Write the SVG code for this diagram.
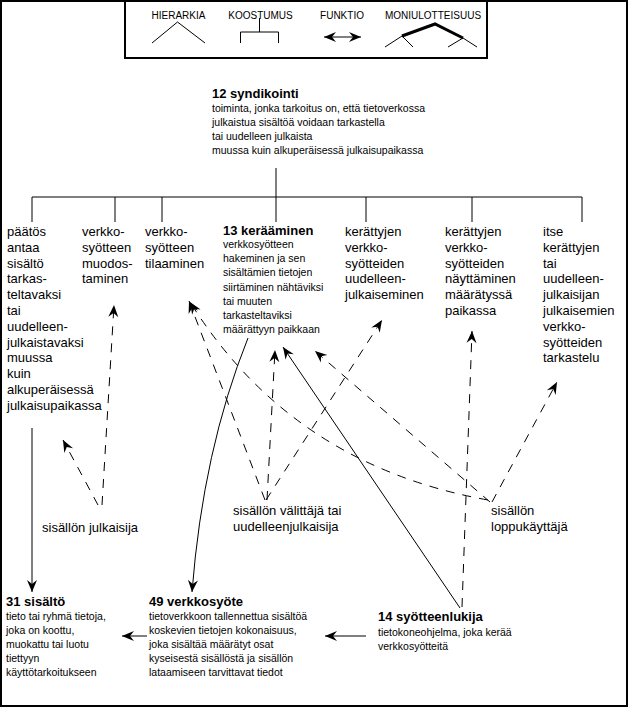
<svg xmlns="http://www.w3.org/2000/svg" width="629" height="708" viewBox="0 0 629 708">
<style>
text{font-family:"Liberation Sans",Arial,sans-serif;fill:#000}
.lg{font-size:10px;text-anchor:middle}
.s{font-size:10.5px}
.m{font-size:13px}
.b{font-size:13px;font-weight:bold}
.ln{fill:none;stroke:#000;stroke-width:1}
.d{fill:none;stroke:#000;stroke-width:1;stroke-dasharray:9,8}
.a{marker-end:url(#ah)}
</style>
<defs>
<marker id="ah" viewBox="-13 -6 14 12" refX="0" refY="0" markerWidth="14" markerHeight="12" markerUnits="userSpaceOnUse" orient="auto-start-reverse">
<path d="M0,0 L-12,-5 L-8,0 L-12,5 Z" fill="#000"/>
</marker>
</defs>
<rect x="0" y="0" width="629" height="708" fill="#fff"/>
<rect x="1" y="1" width="626" height="705" fill="none" stroke="#000" stroke-width="2"/>

<g id="legend">
<rect x="125" y="1" width="362" height="57" fill="none" stroke="#000" stroke-width="2"/>
<text class="lg" x="178.5" y="18.5">HIERARKIA</text>
<text class="lg" x="260.5" y="18.5">KOOSTUMUS</text>
<text class="lg" x="342" y="18.5">FUNKTIO</text>
<text class="lg" x="433" y="18.5">MONIULOTTEISUUS</text>
<path class="ln" d="M152,43 L177.5,22 L205,43"/>
<path class="ln" d="M259.5,18 V32 M240.5,43 V32 H278.5 V43"/>
<path class="ln" d="M324,37 H361" marker-start="url(#ah)" marker-end="url(#ah)"/>
<path d="M402,36 L435,24 L463,38" fill="none" stroke="#000" stroke-width="3"/>
<path class="ln" d="M385,47 L402,36 L413,47 M448,47 L463,38 L477,47"/>
</g>

<g id="connectors">
<path class="ln" d="M276,168 V222 M32,197 H582 M32,197 V222 M115,197 V222 M162,197 V222 M366,197 V222 M472,197 V222 M582,197 V222"/>
<path class="d a" d="M102,505 L114,305"/>
<path class="d a" d="M98,505 L63,440"/>
<path class="d a" d="M265,500 L189,301"/>
<path class="d a" d="M267,500 L275,350"/>
<path class="d a" d="M266,500 L382,320"/>
<path class="d a" d="M488,500 Q292,465 190,302"/>
<path class="d a" d="M490,502 L315,351"/>
<path class="d a" d="M492,502 L557,382"/>
<path class="d a" d="M462,607 L472,331"/>
<path class="ln a" d="M460,608 L283,347"/>
<path class="ln a" d="M248,338 Q203,450 192,592"/>
<path class="ln a" d="M32,428 V592"/>
<path class="ln a" d="M366,636 H325"/>
<path class="ln a" d="M147,636 H122"/>
</g>

<g id="n12">
<text class="b" x="212" y="97.5">12  syndikointi</text>
<text class="s" x="212" y="112">toiminta, jonka tarkoitus on, että tietoverkossa</text>
<text class="s" x="212" y="126">julkaistua sisältöä voidaan tarkastella</text>
<text class="s" x="212" y="140">tai uudelleen julkaista</text>
<text class="s" x="212" y="154">muussa kuin alkuperäisessä julkaisupaikassa</text>
</g>

<g id="paatos">
<text class="m" x="7" y="236">päätös</text>
<text class="m" x="7" y="251.8">antaa</text>
<text class="m" x="7" y="267.6">sisältö</text>
<text class="m" x="7" y="283.4">tarkas-</text>
<text class="m" x="7" y="299.2">teltavaksi</text>
<text class="m" x="7" y="315">tai</text>
<text class="m" x="7" y="330.8">uudelleen-</text>
<text class="m" x="7" y="346.6">julkaistavaksi</text>
<text class="m" x="7" y="362.4">muussa</text>
<text class="m" x="7" y="378.2">kuin</text>
<text class="m" x="7" y="394">alkuperäisessä</text>
<text class="m" x="7" y="409.8">julkaisupaikassa</text>
</g>

<g id="muodostaminen">
<text class="m" x="82" y="236">verkko-</text>
<text class="m" x="82" y="251.8">syötteen</text>
<text class="m" x="82" y="267.6">muodos-</text>
<text class="m" x="82" y="283.4">taminen</text>
</g>

<g id="tilaaminen">
<text class="m" x="145" y="236">verkko-</text>
<text class="m" x="145" y="251.8">syötteen</text>
<text class="m" x="145" y="267.6">tilaaminen</text>
</g>

<g id="n13">
<text class="b" x="223" y="235">13  kerääminen</text>
<text class="s" x="223" y="248">verkkosyötteen</text>
<text class="s" x="223" y="262.2">hakeminen ja sen</text>
<text class="s" x="223" y="276.4">sisältämien tietojen</text>
<text class="s" x="223" y="290.6">siirtäminen nähtäviksi</text>
<text class="s" x="223" y="304.8">tai muuten</text>
<text class="s" x="223" y="319">tarkasteltaviksi</text>
<text class="s" x="223" y="333.2">määrättyyn paikkaan</text>
</g>

<g id="uudelleenjulkaiseminen">
<text class="m" x="345" y="236">kerättyjen</text>
<text class="m" x="345" y="251.8">verkko-</text>
<text class="m" x="345" y="267.6">syötteiden</text>
<text class="m" x="345" y="283.4">uudelleen-</text>
<text class="m" x="345" y="299.2">julkaiseminen</text>
</g>

<g id="nayttaminen">
<text class="m" x="445" y="236">kerättyjen</text>
<text class="m" x="445" y="251.8">verkko-</text>
<text class="m" x="445" y="267.6">syötteiden</text>
<text class="m" x="445" y="283.4">näyttäminen</text>
<text class="m" x="445" y="299.2">määrätyssä</text>
<text class="m" x="445" y="315">paikassa</text>
</g>

<g id="tarkastelu">
<text class="m" x="543" y="236">itse</text>
<text class="m" x="543" y="251.8">kerättyjen</text>
<text class="m" x="543" y="267.6">tai</text>
<text class="m" x="543" y="283.4">uudelleen-</text>
<text class="m" x="543" y="299.2">julkaisijan</text>
<text class="m" x="543" y="315">julkaisemien</text>
<text class="m" x="543" y="330.8">verkko-</text>
<text class="m" x="543" y="346.6">syötteiden</text>
<text class="m" x="543" y="362.4">tarkastelu</text>
</g>

<g id="julkaisija">
<text class="m" x="42" y="532">sisällön julkaisija</text>
</g>

<g id="valittaja">
<text class="m" x="233" y="515">sisällön välittäjä tai</text>
<text class="m" x="233" y="531">uudelleenjulkaisija</text>
</g>

<g id="loppukayttaja">
<text class="m" x="491" y="515">sisällön</text>
<text class="m" x="491" y="531">loppukäyttäjä</text>
</g>

<g id="n31">
<text class="b" x="6" y="605.5">31  sisältö</text>
<text class="s" x="6" y="620">tieto tai ryhmä tietoja,</text>
<text class="s" x="6" y="634">joka on koottu,</text>
<text class="s" x="6" y="648">muokattu tai luotu</text>
<text class="s" x="6" y="662">tiettyyn</text>
<text class="s" x="6" y="676">käyttötarkoitukseen</text>
</g>

<g id="n49">
<text class="b" x="149" y="605.5">49  verkkosyöte</text>
<text class="s" x="149" y="620">tietoverkkoon tallennettua sisältöä</text>
<text class="s" x="149" y="634">koskevien tietojen kokonaisuus,</text>
<text class="s" x="149" y="648">joka sisältää määrätyt osat</text>
<text class="s" x="149" y="662">kyseisestä sisällöstä ja sisällön</text>
<text class="s" x="149" y="676">lataamiseen tarvittavat tiedot</text>
</g>

<g id="n14">
<text class="b" x="378" y="621">14  syötteenlukija</text>
<text class="s" x="378" y="636">tietokoneohjelma, joka kerää</text>
<text class="s" x="378" y="650">verkkosyötteitä</text>
</g>
</svg>
